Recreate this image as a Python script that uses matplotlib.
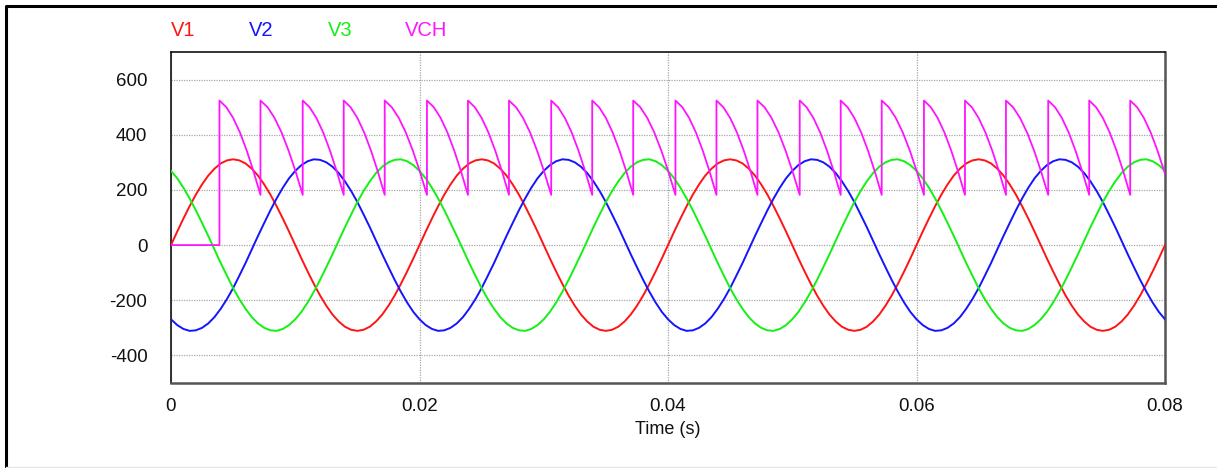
"""Three-phase supply and controlled rectifier output (VCH)"""

import numpy as np
import matplotlib

matplotlib.use("Agg")
import matplotlib.pyplot as plt
from matplotlib.lines import Line2D

plt.rcParams["font.family"] = ["Liberation Sans", "DejaVu Sans"]
plt.rcParams["axes.unicode_minus"] = False

# ── phase voltages, sampled every 0.5 ms over 0 … 80 ms ──
T_STEP = 0.0005
V1 = [
    0, 49, 96, 141, 183, 220, 252, 277, 296, 307, 311, 307, 296, 277, 252, 220, 183, 141, 96, 49,
    0, -49, -96, -141, -183, -220, -252, -277, -296, -307, -311, -307, -296, -277, -252, -220, -183, -141, -96, -49,
    0, 49, 96, 141, 183, 220, 252, 277, 296, 307, 311, 307, 296, 277, 252, 220, 183, 141, 96, 49,
    0, -49, -96, -141, -183, -220, -252, -277, -296, -307, -311, -307, -296, -277, -252, -220, -183, -141, -96, -49,
    0, 49, 96, 141, 183, 220, 252, 277, 296, 307, 311, 307, 296, 277, 252, 220, 183, 141, 96, 49,
    0, -49, -96, -141, -183, -220, -252, -277, -296, -307, -311, -307, -296, -277, -252, -220, -183, -141, -96, -49,
    0, 49, 96, 141, 183, 220, 252, 277, 296, 307, 311, 307, 296, 277, 252, 220, 183, 141, 96, 49,
    0, -49, -96, -141, -183, -220, -252, -277, -296, -307, -311, -307, -296, -277, -252, -220, -183, -141, -96, -49,
    0,
]
V2 = [
    -269, -290, -304, -311, -309, -300, -284, -261, -231, -196, -156, -111, -65, -16, 33, 80, 126, 169, 208, 242,
    269, 290, 304, 311, 309, 300, 284, 261, 231, 196, 156, 111, 65, 16, -33, -80, -126, -169, -208, -242,
    -269, -290, -304, -311, -309, -300, -284, -261, -231, -196, -156, -111, -65, -16, 33, 80, 126, 169, 208, 242,
    269, 290, 304, 311, 309, 300, 284, 261, 231, 196, 156, 111, 65, 16, -33, -80, -126, -169, -208, -242,
    -269, -290, -304, -311, -309, -300, -284, -261, -231, -196, -156, -111, -65, -16, 33, 80, 126, 169, 208, 242,
    269, 290, 304, 311, 309, 300, 284, 261, 231, 196, 156, 111, 65, 16, -33, -80, -126, -169, -208, -242,
    -269, -290, -304, -311, -309, -300, -284, -261, -231, -196, -156, -111, -65, -16, 33, 80, 126, 169, 208, 242,
    269, 290, 304, 311, 309, 300, 284, 261, 231, 196, 156, 111, 65, 16, -33, -80, -126, -169, -208, -242,
    -269,
]
V3 = [
    269, 242, 208, 169, 126, 80, 33, -16, -65, -111, -156, -196, -231, -261, -284, -300, -309, -311, -304, -290,
    -269, -242, -208, -169, -126, -80, -33, 16, 65, 111, 156, 196, 231, 261, 284, 300, 309, 311, 304, 290,
    269, 242, 208, 169, 126, 80, 33, -16, -65, -111, -156, -196, -231, -261, -284, -300, -309, -311, -304, -290,
    -269, -242, -208, -169, -126, -80, -33, 16, 65, 111, 156, 196, 231, 261, 284, 300, 309, 311, 304, 290,
    269, 242, 208, 169, 126, 80, 33, -16, -65, -111, -156, -196, -231, -261, -284, -300, -309, -311, -304, -290,
    -269, -242, -208, -169, -126, -80, -33, 16, 65, 111, 156, 196, 231, 261, 284, 300, 309, 311, 304, 290,
    269, 242, 208, 169, 126, 80, 33, -16, -65, -111, -156, -196, -231, -261, -284, -300, -309, -311, -304, -290,
    -269, -242, -208, -169, -126, -80, -33, 16, 65, 111, 156, 196, 231, 261, 284, 300, 309, 311, 304, 290,
    269,
]

# ── rectifier output: firing instants and the shape of one conduction interval ──
FIRE_T = [
    0.0039, 0.0072, 0.0106, 0.0139, 0.0172, 0.0206, 0.0239, 0.0272,
    0.0306, 0.0339, 0.0372, 0.0406, 0.0439, 0.0472, 0.0506, 0.0539,
    0.0572, 0.0606, 0.0639, 0.0672, 0.0706, 0.0739, 0.0772,
]
VCH_SEGMENT = [524, 500, 461, 408, 342, 266, 182]   # values across one interval

NAMES = ["V1", "V2", "V3", "VCH"]
COLORS = ["#ff1414", "#1414ff", "#14f014", "#ff14ff"]

Y_TICKS = [-400, -200, 0, 200, 400, 600]
X_TICKS = [0, 0.02, 0.04, 0.06, 0.08]
X_TICK_LABELS = ["0", "0.02", "0.04", "0.06", "0.08"]


def build_vch():
    t = [0.0, FIRE_T[0]]
    v = [0.0, 0.0]
    n = len(VCH_SEGMENT) - 1
    for i, t0 in enumerate(FIRE_T):
        if i + 1 < len(FIRE_T):
            span = FIRE_T[i + 1] - t0
        else:
            span = t0 - FIRE_T[i - 1]
        for j, val in enumerate(VCH_SEGMENT):
            t.append(t0 + span * j / n)
            v.append(val)
    return np.array(t), np.array(v)


W, H = 1217, 468
fig = plt.figure(figsize=(W / 100, H / 100), dpi=100)
ax = fig.add_axes([171 / W, 1 - 383 / H, (1165 - 171) / W, (383 - 52) / H])

t_phase = np.arange(len(V1)) * T_STEP
t_ch, v_ch = build_vch()

for vals, c in zip([V1, V2, V3], COLORS[:3]):
    ax.plot(t_phase, vals, color=c, lw=1.4, zorder=3)
ax.plot(t_ch, v_ch, color=COLORS[3], lw=1.3, zorder=4)

ax.set_xlim(0, 0.08)
ax.set_ylim(-500, 700)
ax.set_xticks(X_TICKS)
ax.set_xticklabels(X_TICK_LABELS)
ax.set_yticks(Y_TICKS)
ax.tick_params(axis="both", length=0, labelsize=13.5, colors="#111111")
ax.tick_params(axis="y", pad=17)
ax.tick_params(axis="x", pad=11)
ax.set_xlabel("Time (s)", fontsize=13, labelpad=4, color="#111111")

ax.grid(True, color="#a8a8a8", lw=0.9, linestyle=(0, (1, 1)))
ax.set_axisbelow(True)

for side in ("left", "top"):
    ax.spines[side].set_color("#111111")
    ax.spines[side].set_linewidth(1.2)
for side in ("right", "bottom"):
    ax.spines[side].set_color("#555555")
    ax.spines[side].set_linewidth(1.8)

# series names above the plot
for name, c, x in zip(NAMES, COLORS, [171, 249, 328, 405]):
    fig.text(x / W, 1 - 31 / H, name, color=c, fontsize=14.5, ha="left", va="center")

# outer frame
fx, fy = 6.2 / W, 1 - 6.2 / H
fig.add_artist(Line2D([fx, fx, 1.0], [0.0, fy, fy], transform=fig.transFigure,
                      color="black", lw=2.2))
fig.add_artist(Line2D([fx, 1.0], [1 - 467 / H] * 2, transform=fig.transFigure,
                      color="#e6e6e6", lw=1.0))

fig.savefig("out.png", dpi=100)
